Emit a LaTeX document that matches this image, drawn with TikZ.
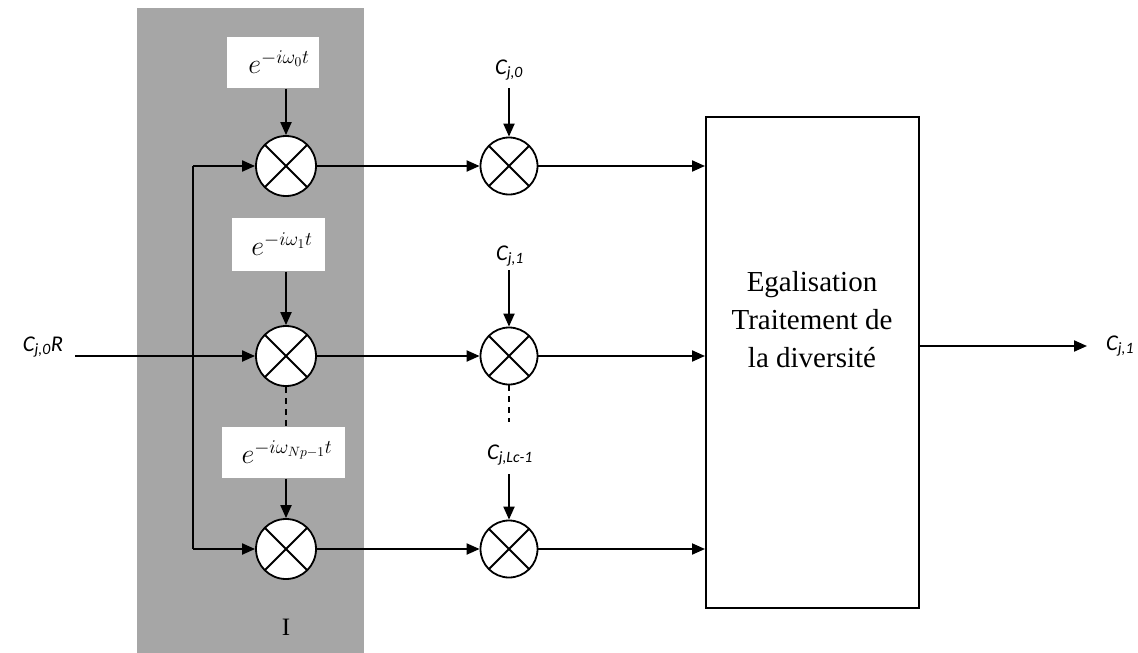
\documentclass[tikz,border=0pt]{standalone}
\usepackage{graphicx}
\usepackage{fontspec}
\setmainfont{Liberation Serif}
\newfontfamily\lblfont{Carlito}
\usetikzlibrary{arrows.meta}
\definecolor{panelgray}{HTML}{A6A6A6}
\newcommand{\oscexp}[1]{\scalebox{1.35}{$e^{-i\omega_{#1} t}$}}

\begin{document}
\begin{tikzpicture}[x=1pt, y=-1pt, line width=2pt,
  >={Triangle[length=13pt,width=11pt]},
  mult/.style={circle, draw, fill=white, line width=1.8pt, inner sep=0pt,
    minimum size=#1,
    path picture={\draw[line width=1.8pt]
      (path picture bounding box.north west) -- (path picture bounding box.south east)
      (path picture bounding box.north east) -- (path picture bounding box.south west);}},
  expbox/.style={fill=white, inner sep=0pt, font=\fontsize{20}{24}\selectfont},
  clabel/.style={font=\lblfont\itshape\fontsize{22.5}{26}\selectfont, inner sep=1pt},
  dots/.style={line width=1.5pt, dash pattern=on 6pt off 5pt}
]
\useasboundingbox (0,0) rectangle (1138,653);

% shaded demodulation stage
\fill[panelgray] (137,8) rectangle (364,653);
\node[font=\fontsize{25}{28}\selectfont] (stage) at (286,627) {I};

% local oscillator inputs
\node[expbox, minimum width=92pt, minimum height=51pt] (e0) at (273,62) {\hspace*{12pt}\oscexp{0}};
\node[expbox, minimum width=93pt, minimum height=53pt] (e1) at (278,244) {\hspace*{8pt}\oscexp{1}};
\node[expbox, minimum width=123pt, minimum height=51pt] (e2) at (283,452) {\hspace*{8pt}\oscexp{Np-1}};

% first column of multipliers
\node[mult=60pt] (m01) at (286,166) {};
\node[mult=60pt] (m02) at (286,356) {};
\node[mult=60pt] (m03) at (286,549) {};

% second column of multipliers
\node[mult=57pt] (m11) at (509,166) {};
\node[mult=57pt] (m12) at (509,356) {};
\node[mult=57pt] (m13) at (509,549) {};

% code labels
\node[clabel] (c0) at (509,70) {C\textsubscript{j,0}};
\node[clabel] (c1) at (510,256) {C\textsubscript{j,1}};
\node[clabel] (c2) at (510,455) {C\textsubscript{j,Lc-1}};

% equalisation block
\node[draw, line width=2pt, minimum width=213pt, minimum height=491pt, inner sep=0pt] (eq) at (812.5,362.5) {};
\node[align=center, font=\fontsize{29}{38}\selectfont] (eqtext) at (812,320)
  {Egalisation\\Traitement de\\la diversité};

% input and output labels
\node[clabel] (inlbl) at (43,347) {C\textsubscript{j,0}R};
\node[clabel] (outlbl) at (1120,346) {C\textsubscript{j,1}};

% input distribution
\coordinate (in) at (75,356);
\coordinate (split) at (193,356);
\coordinate (b1) at (193,166);
\coordinate (b3) at (193,549);
\draw (in) -- (split);
\draw (b1) -- (b3);
\draw[->] (b1) -- (m01);
\draw[->] (split) -- (m02);
\draw[->] (b3) -- (m03);

% oscillator feeds
\draw[->] (e0.south -| m01) -- (m01);
\draw[->] (e1.south -| m02) -- (m02);
\draw[->] (e2.south -| m03) -- (m03);
\draw[dots] (m02.south) -- (e2.north -| m02);

% code feeds
\coordinate (c0b) at (509,88);
\coordinate (c1b) at (509,270);
\coordinate (c2b) at (509,474);
\coordinate (gapend) at (509,422);
\draw[->] (c0b) -- (m11);
\draw[->] (c1b) -- (m12);
\draw[->] (c2b) -- (m13);
\draw[dots] (m12.south) -- (gapend);

% between columns
\draw[->] (m01) -- (m11);
\draw[->] (m02) -- (m12);
\draw[->] (m03) -- (m13);

% into the equaliser
\draw[->] (m11) -- (m11 -| eq.west);
\draw[->] (m12) -- (m12 -| eq.west);
\draw[->] (m13) -- (m13 -| eq.west);

% output
\coordinate (outend) at (1087,346);
\draw[->] (eq.east |- outend) -- (outend);
\end{tikzpicture}
\end{document}
